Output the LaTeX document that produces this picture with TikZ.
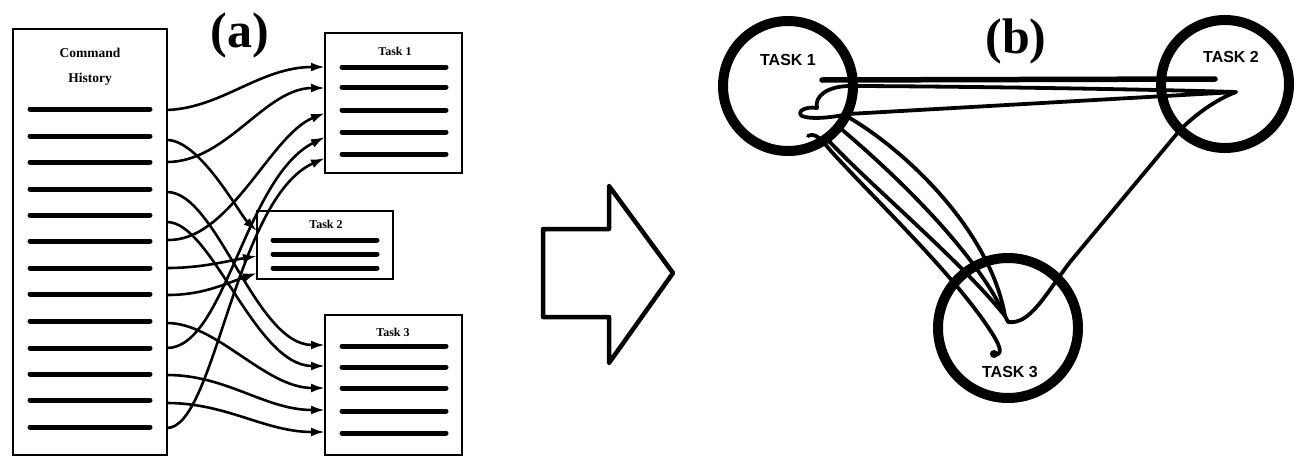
\documentclass[tikz,border=0pt]{standalone}
\usepackage{fontspec}
\setmainfont{Liberation Serif}
\newfontfamily\tasksans{Liberation Sans}
\usetikzlibrary{arrows.meta}
\begin{document}
\begin{tikzpicture}[x=1pt,y=-1pt,
  frame/.style={draw, line width=2.4pt, inner sep=0pt},
  bar/.style={line width=5pt, line cap=round},
  link/.style={line width=2.6pt, -{Latex[length=14pt,width=9pt]}},
  ring/.style={circle, draw, line width=10pt, inner sep=0pt},
  scrib/.style={line width=3.8pt, line cap=round, line join=round},
  tiny/.style={font=\fontsize{12}{12}\selectfont\bfseries},
  title/.style={font=\fontsize{50}{50}\selectfont\bfseries},
  ringlabel/.style={font=\tasksans\fontsize{16}{16}\selectfont\bfseries}]
\useasboundingbox (0,0) rectangle (1298,458);

% ---------- (a) command history and task lists ----------
\node[frame, minimum width=154pt, minimum height=426pt] (hist) at (90,242) {};
\node[frame, minimum width=137pt, minimum height=140pt] (task1) at (393.5,103) {};
\node[frame, minimum width=136pt, minimum height=68pt] (task2) at (325,245) {};
\node[frame, minimum width=137pt, minimum height=140pt] (task3) at (393.5,385) {};

\node[tiny, font=\fontsize{13.5}{13.5}\selectfont\bfseries] (cmd) at (90,53) {Command};
\node[tiny, font=\fontsize{13.5}{13.5}\selectfont\bfseries] (histlbl) at (90,79) {History};
\node[tiny] (t1lbl) at (395,51) {Task 1};
\node[tiny] (t2lbl) at (326,224) {Task 2};
\node[tiny] (t3lbl) at (393,332) {Task 3};
\node[title] (lbla) at (240,35) {(a)};

\foreach \y in {109,136,162,189,215,241,268,294,321,348,374,400,427}
  \draw[bar] (30,\y) -- (150,\y);
\foreach \y in {67,87,110,132,154}
  \draw[bar] (342,\y) -- (446,\y);
\foreach \y in {240,254,268}
  \draw[bar] (273,\y) -- (377,\y);
\foreach \y in {346,367,388,411,433}
  \draw[bar] (342,\y) -- (446,\y);

% connector ends on the history box
\coordinate (s1) at (167,110);  \coordinate (s2) at (167,140);
\coordinate (s3) at (167,162);  \coordinate (s4) at (167,192);
\coordinate (s5) at (167,222);  \coordinate (s6) at (167,240);
\coordinate (s7) at (167,268);  \coordinate (s8) at (167,295);
\coordinate (s9) at (167,323);  \coordinate (s10) at (167,348);
\coordinate (s11) at (167,375); \coordinate (s12) at (167,403);
\coordinate (s13) at (167,428);
% connector ends on the task boxes
\coordinate (a1) at (325,67);  \coordinate (a2) at (325,88);
\coordinate (a3) at (325,113); \coordinate (a4) at (325,137);
\coordinate (a5) at (325,158);
\coordinate (b1) at (257,231); \coordinate (b2) at (257,256);
\coordinate (b3) at (257,273);
\coordinate (c1) at (325,345); \coordinate (c2) at (325,366);
\coordinate (c3) at (325,388); \coordinate (c4) at (325,410);
\coordinate (c5) at (325,432);

\draw[link] (s1) .. controls +(55,-2) and +(-65,0) .. (a1);
\draw[link] (s2) .. controls +(33,0) and +(-17,-16) .. (b1);
\draw[link] (s3) .. controls +(60,0) and +(-60,0) .. (a2);
\draw[link] (s4) .. controls +(50,0) and +(-70,0) .. (c1);
\draw[link] (s5) .. controls +(45,0) and +(-70,0) .. (c2);
\draw[link] (s6) .. controls +(63,2) and +(-55,22) .. (a3);
\draw[link] (s7) .. controls +(35,0) and +(-30,5) .. (b2);
\draw[link] (s8) .. controls +(35,0) and +(-35,12) .. (b3);
\draw[link] (s9) .. controls +(50,0) and +(-60,0) .. (c3);
\draw[link] (s10) .. controls +(58,0) and +(-80,40) .. (a4);
\draw[link] (s11) .. controls +(60,0) and +(-60,0) .. (c4);
\draw[link] (s12) .. controls +(60,0) and +(-60,0) .. (c5);
\draw[link] (s13) .. controls +(48,0) and +(-90,40) .. (a5);

% ---------- transformation arrow ----------
\draw[line width=4.5pt, line join=round]
  (543,229) -- (609,229) -- (609,186) -- (673,273) -- (609,363)
  -- (609,317) -- (543,317) -- cycle;

% ---------- (b) task graph ----------
\node[ring, minimum size=130pt] (r1) at (788,86) {};
\node[ring, minimum size=128pt] (r2) at (1225,84) {};
\node[ring, minimum size=140pt] (r3) at (1008,328) {};
\node[ringlabel] (r1lbl) at (788,60) {TASK 1};
\node[ringlabel] (r2lbl) at (1231,57) {TASK 2};
\node[ringlabel] (r3lbl) at (1010,372) {TASK 3};
\node[title] (lblb) at (1016,41) {(b)};

% pen trace of the command sequence
\draw[scrib, line width=5.5pt] (822,80) -- (1215,79);
\draw[scrib] (1236,92) .. controls (1100,88) and (900,86) .. (850,86)
  .. controls (828,86) and (814,96) .. (817,108)
  .. controls (805,106) and (796,112) .. (802,116)
  .. controls (812,120) and (835,117) .. (848,114) -- (1236,92);
\draw[scrib] (848,117) .. controls (905,150) and (990,230) .. (1005,316);
\draw[scrib] (840,128) .. controls (890,170) and (975,250) .. (1005,316);
\draw[scrib] (828,140) .. controls (870,185) and (960,260) .. (1005,316);
\draw[scrib] (808,136) .. controls (815,132) and (822,140) .. (830,150)
  .. controls (880,205) and (960,280) .. (995,338)
  .. controls (1003,352) and (1000,356) .. (994,354);
\fill (994,354) circle[radius=4pt];
\draw[scrib] (1236,92) .. controls (1215,100) and (1195,115) .. (1180,130)
  -- (1070,262) .. controls (1045,295) and (1030,325) .. (1008,322) -- (1005,316);
\end{tikzpicture}
\end{document}
